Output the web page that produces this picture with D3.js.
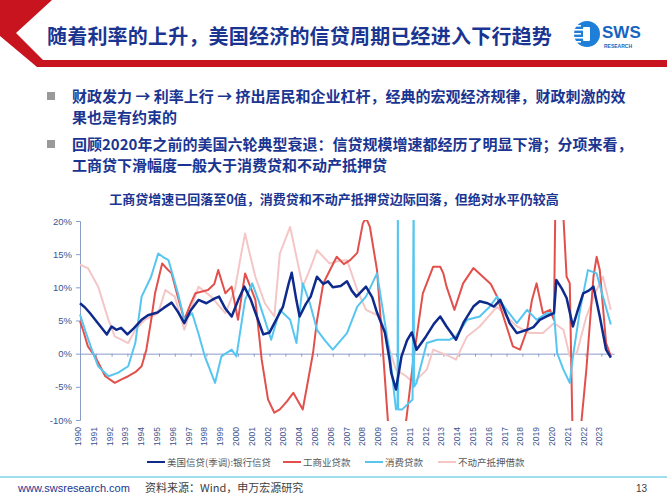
<!DOCTYPE html>
<html>
<head>
<meta charset="utf-8">
<script src="https://cdnjs.cloudflare.com/ajax/libs/d3/7.8.5/d3.min.js"></script>
<style>
  body { margin: 0; background: #fff; }
  svg { display: block; font-family: "Liberation Sans", Arial, "Noto Sans CJK SC", sans-serif; }
  .cjk { font-family: "Noto Sans CJK SC", sans-serif; }
</style>
</head>
<body>
<div id="chart"></div>
<script>
// data, [decimal year, yoy %]
var bankCredit = [[1990.0,7.6],[1990.3,7.0],[1990.6,6.2],[1991.0,5.0],[1991.3,4.1],[1991.7,2.9],[1992.0,4.1],[1992.3,3.6],[1992.6,3.9],[1993.0,2.9],[1993.4,3.8],[1993.9,5.1],[1994.3,5.8],[1994.9,6.2],[1995.3,6.9],[1995.8,7.7],[1996.2,6.3],[1996.6,4.6],[1997.0,6.5],[1997.5,8.1],[1998.0,7.6],[1998.5,8.3],[1998.8,8.6],[1999.2,6.8],[1999.6,5.6],[2000.0,8.0],[2000.4,10.1],[2000.8,8.2],[2001.1,6.2],[2001.6,2.9],[2002.0,3.2],[2002.5,5.5],[2002.85,7.1],[2003.2,10.5],[2003.4,12.2],[2003.7,8.0],[2003.9,5.6],[2004.3,7.5],[2004.6,8.6],[2005.0,11.6],[2005.4,10.5],[2005.7,10.9],[2006.0,10.0],[2006.5,10.2],[2006.9,10.9],[2007.2,9.5],[2007.5,8.6],[2008.1,10.1],[2008.5,8.5],[2008.8,6.2],[2009.3,3.2],[2009.6,-1.0],[2009.7,-2.9],[2010.0,-5.4],[2010.35,-0.4],[2010.7,2.0],[2011.0,3.2],[2011.3,0.6],[2011.9,2.6],[2012.4,4.5],[2012.8,5.6],[2013.2,4.1],[2013.8,2.1],[2014.3,4.8],[2014.9,7.1],[2015.3,7.9],[2015.8,7.6],[2016.2,7.1],[2016.6,8.1],[2017.2,4.6],[2017.65,3.1],[2018.3,3.6],[2018.7,4.0],[2019.1,5.1],[2019.5,5.6],[2020.0,6.1],[2020.15,11.1],[2020.5,9.8],[2020.8,8.4],[2021.2,4.1],[2021.5,6.5],[2021.85,9.1],[2022.2,9.5],[2022.5,10.1],[2022.9,5.6],[2023.3,0.6],[2023.6,-0.6]];

var ciLoans = [[1990.0,4.9],[1990.2,3.5],[1990.5,1.1],[1990.95,-0.4],[1991.3,-2.0],[1991.6,-3.4],[1992.2,-4.4],[1992.6,-3.9],[1993.05,-3.4],[1993.5,-2.8],[1993.9,-1.9],[1994.2,0.6],[1994.5,5.0],[1994.75,9.1],[1995.2,13.6],[1995.5,12.8],[1995.8,12.1],[1996.2,8.5],[1996.6,5.1],[1997.0,7.5],[1997.3,9.1],[1998.1,9.6],[1998.5,10.5],[1998.75,12.6],[1999.2,9.1],[1999.6,10.1],[2000.0,5.1],[2000.45,12.1],[2000.8,10.0],[2001.1,8.1],[2001.5,-0.9],[2001.9,-6.9],[2002.3,-8.9],[2002.65,-8.4],[2003.1,-7.2],[2003.5,-5.9],[2004.1,-8.4],[2004.4,-4.5],[2004.75,0.1],[2005.0,5.0],[2005.4,10.6],[2005.8,12.5],[2006.25,14.6],[2006.7,13.5],[2007.1,14.1],[2007.55,15.2],[2007.9,19.6],[2008.1,20.5],[2008.35,19.1],[2008.8,12.6],[2009.2,-0.4],[2009.5,-10.5],[2009.8,-14],[2010.2,-14],[2010.65,-10],[2011.1,-0.9],[2011.7,9.1],[2012.35,13.1],[2012.8,13.1],[2013.0,12.1],[2013.2,10.1],[2013.7,6.6],[2014.25,10.6],[2014.9,12.9],[2015.5,11.6],[2016.0,10.5],[2016.4,8.6],[2017.0,4.1],[2017.4,1.1],[2017.85,0.6],[2018.3,3.6],[2018.6,8.0],[2018.9,10.6],[2019.3,6.1],[2019.75,6.6],[2020.0,5.1],[2020.1,25],[2020.5,25],[2020.8,11.6],[2021.0,10.6],[2021.2,-15],[2021.55,-15],[2022.05,-2.4],[2022.5,11.6],[2022.7,14.6],[2022.9,12.6],[2023.3,1.6],[2023.6,-0.4]];

var consumerLoans = [[1990.0,5.9],[1990.4,3.0],[1990.75,0.6],[1991.15,-1.9],[1991.8,-3.4],[1992.4,-2.9],[1993.05,-1.9],[1993.5,1.6],[1993.9,8.6],[1994.5,11.6],[1994.95,15.1],[1995.3,14.5],[1995.6,14.1],[1996.2,9.1],[1996.6,5.1],[1997.1,6.1],[1997.5,3.0],[1997.9,-0.4],[1998.55,-4.4],[1998.95,-0.4],[1999.6,0.6],[1999.9,-0.4],[2000.45,8.1],[2000.9,10.6],[2001.3,8.0],[2001.7,5.1],[2002.1,2.1],[2002.65,6.6],[2003.3,5.1],[2003.7,1.6],[2004.1,10.6],[2004.55,7.6],[2005.0,3.6],[2005.5,2.0],[2006.0,0.6],[2006.9,3.1],[2007.55,7.1],[2008.1,8.6],[2008.8,12.1],[2009.1,7.6],[2009.6,0.1],[2010.0,-8.4],[2010.1,-8.0],[2010.12,25],[2010.14,-8.4],[2010.4,-8.4],[2011.05,-6.9],[2011.12,25],[2011.14,-5.0],[2011.3,-4.4],[2011.95,1.6],[2012.6,2.1],[2013.4,2.1],[2013.8,2.6],[2014.5,5.1],[2015.3,5.6],[2015.9,7.0],[2016.4,8.6],[2017.0,6.6],[2017.65,4.6],[2018.3,6.6],[2018.9,5.1],[2019.55,6.1],[2020.0,6.1],[2020.2,0.1],[2020.6,-2.4],[2021.0,-4.4],[2021.2,-0.4],[2021.65,6.6],[2022.15,12.6],[2022.7,12.1],[2023.1,8.6],[2023.6,4.4]];

var mortgageLoans = [[1990.0,13.4],[1990.5,12.9],[1991.15,10.1],[1991.8,5.1],[1992.2,2.6],[1993.05,1.6],[1993.5,3.6],[1994.1,5.1],[1994.95,6.1],[1995.4,9.6],[1996.0,8.6],[1996.6,3.6],[1997.5,10.1],[1998.3,8.6],[1999.2,6.1],[1999.8,9.6],[2000.2,15.0],[2000.45,18.1],[2000.7,15.5],[2001.1,11.6],[2001.7,7.6],[2002.3,5.6],[2002.65,15.1],[2003.3,19.1],[2003.7,14.6],[2004.1,10.1],[2004.6,13.0],[2005.0,15.6],[2005.8,13.6],[2006.4,14.0],[2006.9,14.1],[2007.55,9.6],[2008.1,6.6],[2009.0,5.6],[2009.6,0.6],[2010.0,-2.4],[2010.65,-3.4],[2011.1,-4.4],[2011.95,-2.4],[2012.35,0.6],[2013.4,-0.4],[2013.8,-0.9],[2014.5,2.6],[2015.3,4.1],[2016.4,7.1],[2017.0,5.6],[2017.65,4.1],[2018.5,3.1],[2019.3,3.1],[2020.0,4.6],[2020.6,3.6],[2021.0,-0.4],[2021.45,0.1],[2022.05,5.6],[2022.7,9.6],[2023.1,11.6],[2023.6,6.6]];

var seriesNames = ["美国信贷(季调):银行信贷", "工商业贷款", "消费贷款", "不动产抵押借款"];
var yearTicks = d3.range(1990, 2024);
var pctTicks = [-10, -5, 0, 5, 10, 15, 20];

var W = 667, H = 500;
var navy = "#1a3591";

var svg = d3.select("#chart").append("svg")
  .attr("width", W).attr("height", H);

/* header */
svg.append("path")
  .attr("d", "M0,0 L52,0 L16,33 L43,60 L667,60 L667,67 L37,67 L0,36 Z")
  .attr("fill", "#c8141e");

svg.append("text").attr("class", "cjk")
  .attr("x", 47).attr("y", 44)
  .attr("font-size", 20).attr("font-weight", 700)
  .attr("letter-spacing", 0.2)
  .attr("fill", navy)
  .text("随着利率的上升，美国经济的信贷周期已经进入下行趋势");

// logo
var logo = svg.append("g");
logo.append("circle").attr("cx", 587).attr("cy", 34).attr("r", 13).attr("fill", "#1e7fd8");
[26, 30, 34, 38, 42].forEach(function(y, i) {
  logo.append("rect").attr("x", 573).attr("y", y - 1).attr("width", 8 + (i % 2) * 2).attr("height", 1.6).attr("fill", "#fff");
});
logo.append("rect").attr("x", 583).attr("y", 27).attr("width", 7).attr("height", 14).attr("fill", "#fff").attr("rx", 1);
logo.append("text").attr("x", 602).attr("y", 38)
  .attr("font-size", 17).attr("font-weight", 700).attr("fill", "#1565c0")
  .text("SWS");
logo.append("text").attr("x", 604).attr("y", 48)
  .attr("font-size", 5).attr("font-weight", 700).attr("fill", "#1565c0")
  .text("RESEARCH");

/* bullets */
var bullets = [
  { y: 102, lines: ["财政发力 → 利率上行 → 挤出居民和企业杠杆，经典的宏观经济规律，财政刺激的效", "果也是有约束的"] },
  { y: 150, lines: ["回顾2020年之前的美国六轮典型衰退：信贷规模增速都经历了明显下滑；分项来看，", "工商贷下滑幅度一般大于消费贷和不动产抵押贷"] }
];
bullets.forEach(function(b) {
  svg.append("rect").attr("x", 47).attr("y", b.y - 10).attr("width", 8).attr("height", 8).attr("fill", "#9a9a9a");
  b.lines.forEach(function(t, i) {
    svg.append("text").attr("class", "cjk")
      .attr("x", 72).attr("y", b.y + i * 21)
      .attr("font-size", 15).attr("font-weight", 700)
      .attr("fill", navy).text(t);
  });
});

svg.append("text").attr("class", "cjk")
  .attr("x", 334).attr("y", 204)
  .attr("text-anchor", "middle")
  .attr("font-size", 13).attr("font-weight", 700)
  .attr("fill", navy)
  .text("工商贷增速已回落至0值，消费贷和不动产抵押贷边际回落，但绝对水平仍较高");

/* chart */
var xScale = d3.scaleLinear().domain([1990, 2023.8]).range([80, 614]);
var yScale = d3.scaleLinear().domain([-10, 20]).range([420, 221]);

svg.append("clipPath").attr("id", "plot-clip")
  .append("rect").attr("x", 78).attr("y", 220).attr("width", 545).attr("height", 201);

var axisColor = "#8a9cc8";
var labelColor = "#3d5590";

// y axis
var yAxis = svg.append("g")
  .attr("transform", "translate(80,0)")
  .call(d3.axisLeft(yScale).tickValues(pctTicks).tickSize(4).tickFormat(d => d + "%"));
yAxis.select(".domain").attr("stroke", axisColor);
yAxis.selectAll(".tick line").attr("stroke", axisColor);
yAxis.selectAll(".tick text").attr("fill", labelColor).attr("font-size", 9.5).attr("x", -8)
  .attr("font-family", "'Liberation Sans', Arial, sans-serif");

// zero line with year ticks
var xAxis = svg.append("g")
  .attr("transform", `translate(0, ${yScale(0)})`)
  .call(d3.axisBottom(xScale).tickValues(yearTicks).tickSize(3).tickSizeOuter(0).tickFormat(""));
xAxis.select(".domain").attr("stroke", axisColor);
xAxis.selectAll(".tick line").attr("stroke", axisColor);

// year labels at bottom
svg.append("g").selectAll("text")
  .data(yearTicks).enter()
  .append("text")
  .attr("transform", d => `translate(${xScale(d) + 1}, 446) rotate(-90)`)
  .attr("font-size", 8.5)
  .attr("fill", labelColor)
  .text(d => d);

var line = d3.line()
  .x(d => xScale(d[0]))
  .y(d => yScale(d[1]));

var series = [
  { data: mortgageLoans, color: "#f5c6c6", width: 2 },
  { data: ciLoans, color: "#e2504c", width: 2 },
  { data: consumerLoans, color: "#56c6f0", width: 2 },
  { data: bankCredit, color: "#0d2a8c", width: 2.5 }
];

svg.append("g").attr("clip-path", "url(#plot-clip)")
  .selectAll("path")
  .data(series).enter()
  .append("path")
  .attr("d", d => line(d.data))
  .attr("fill", "none")
  .attr("stroke", d => d.color)
  .attr("stroke-width", d => d.width)
  .attr("stroke-linejoin", "round");

/* legend */
var legendItems = [
  { name: seriesNames[0], color: "#0d2a8c", x: 147 },
  { name: seriesNames[1], color: "#e2504c", x: 283 },
  { name: seriesNames[2], color: "#56c6f0", x: 365 },
  { name: seriesNames[3], color: "#f5c6c6", x: 438 }
];
var legend = svg.append("g").attr("transform", "translate(0,462)");
legendItems.forEach(function(it) {
  legend.append("line").attr("x1", it.x).attr("x2", it.x + 18)
    .attr("y1", 0).attr("y2", 0).attr("stroke", it.color).attr("stroke-width", 2);
  legend.append("text").attr("class", "cjk")
    .attr("x", it.x + 20).attr("y", 3.5)
    .attr("font-size", 9.5).attr("fill", "#595959")
    .text(it.name);
});

/* footer */
svg.append("line").attr("x1", 0).attr("x2", W).attr("y1", 477).attr("y2", 477)
  .attr("stroke", "#7fd3e6").attr("stroke-width", 1.5);
svg.append("text").attr("x", 18).attr("y", 492)
  .attr("font-size", 11).attr("fill", navy)
  .text("www.swsresearch.com");
svg.append("text").attr("class", "cjk").attr("x", 145).attr("y", 492)
  .attr("font-size", 11).attr("fill", "#404040")
  .text("资料来源：Wind，申万宏源研究");
svg.append("text").attr("x", 636).attr("y", 492)
  .attr("font-size", 10).attr("fill", "#404040")
  .text("13");
</script>
</body>
</html>
